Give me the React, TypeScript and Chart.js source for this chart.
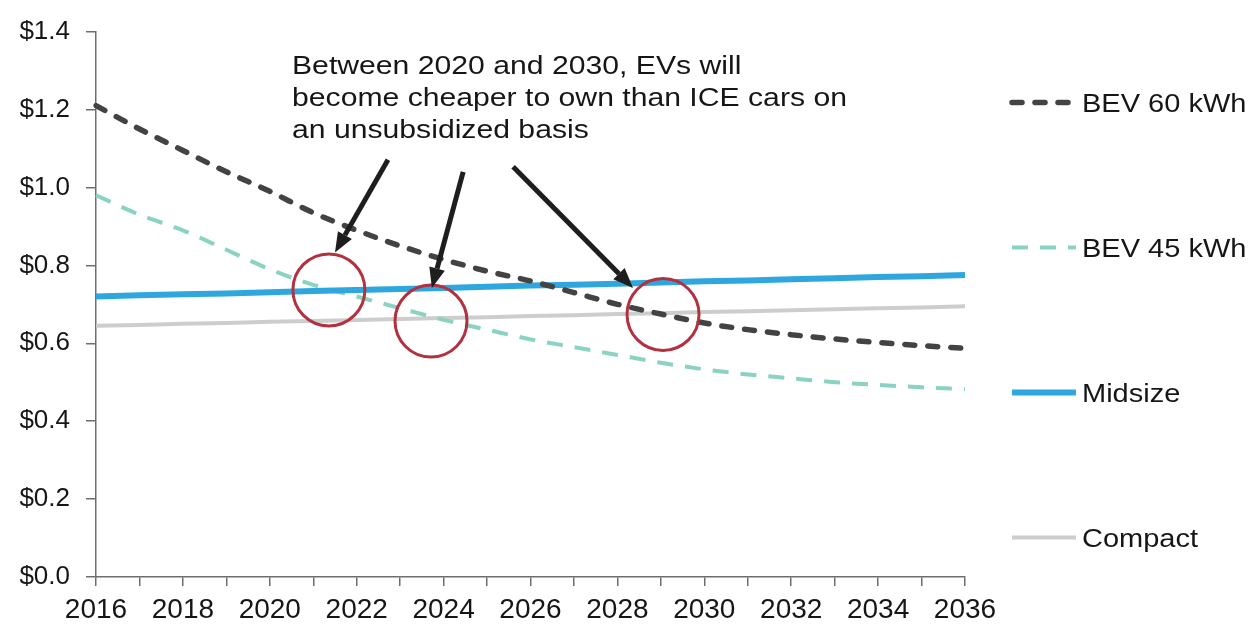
import React, { useEffect, useRef } from 'react';
import { Chart, registerables } from 'chart.js';

Chart.register(...registerables);

const years = [
  '2016', '2017', '2018', '2019', '2020', '2021', '2022', '2023', '2024', '2025', '2026',
  '2027', '2028', '2029', '2030', '2031', '2032', '2033', '2034', '2035', '2036',
];
const bev60 = [
  1.21, 1.15, 1.095, 1.04, 0.99, 0.935, 0.89, 0.85, 0.815, 0.785, 0.76,
  0.73, 0.70, 0.675, 0.652, 0.635, 0.622, 0.611, 0.602, 0.594, 0.587,
];
const bev45 = [
  0.98, 0.93, 0.89, 0.84, 0.79, 0.75, 0.72, 0.69, 0.66, 0.635, 0.61,
  0.59, 0.57, 0.55, 0.533, 0.52, 0.51, 0.50, 0.493, 0.487, 0.482,
];
const midsize = [
  0.720, 0.723, 0.726, 0.728, 0.731, 0.734, 0.737, 0.739, 0.742, 0.745, 0.748,
  0.750, 0.753, 0.756, 0.759, 0.761, 0.764, 0.767, 0.770, 0.772, 0.775,
];
const compact = [
  0.645, 0.647, 0.650, 0.652, 0.655, 0.657, 0.660, 0.662, 0.665, 0.667, 0.670,
  0.672, 0.675, 0.677, 0.680, 0.682, 0.685, 0.687, 0.690, 0.692, 0.695,
];
const seriesLabels = ['BEV 60 kWh', 'BEV 45 kWh', 'Midsize', 'Compact'];
const yMin = 0;
const yMax = 1.4;
const yStep = 0.2;

const annotationLines = [
  'Between 2020 and 2030, EVs will',
  'become cheaper to own than ICE cars on',
  'an unsubsidized basis',
];
const crossoverYears = [2021.36, 2023.71, 2029.05];
const crossoverValues = [0.737, 0.657, 0.674];
const arrowFromYears = [2022.72, 2024.45, 2025.6];
const arrowFromValues = [1.071, 1.04, 1.053];
const arrowToYears = [2021.5, 2023.73, 2028.36];
const arrowToValues = [0.833, 0.742, 0.742];

const FONT = '"Liberation Sans", Arial, Helvetica, sans-serif';
const TEXT_STRETCH = 1.16;
const TEXT_COLOR = '#161616';

function stretchedText(ctx: CanvasRenderingContext2D, text: string, x: number, y: number) {
  ctx.save();
  ctx.translate(x, y);
  ctx.scale(TEXT_STRETCH, 1);
  ctx.fillText(text, 0, 0);
  ctx.restore();
}

const overlayPlugin = {
  id: 'overlay',
  afterDatasetsDraw(chart: any) {
    const { ctx, chartArea, scales } = chart;
    const xs = scales.x;
    const ys = scales.y;
    const base = Number(years[0]);
    const px = (yr: number) => xs.getPixelForValue(yr - base);
    const py = (v: number) => ys.getPixelForValue(v);

    ctx.save();
    // circles
    ctx.strokeStyle = '#b3303f';
    ctx.lineWidth = 3;
    for (let i = 0; i < crossoverYears.length; i++) {
      ctx.beginPath();
      ctx.arc(px(crossoverYears[i]), py(crossoverValues[i]), 36, 0, Math.PI * 2);
      ctx.stroke();
    }
    // arrows
    ctx.strokeStyle = '#1e1e1e';
    ctx.fillStyle = '#1e1e1e';
    for (let i = 0; i < arrowFromYears.length; i++) {
      const x1 = px(arrowFromYears[i]);
      const y1 = py(arrowFromValues[i]);
      const x2 = px(arrowToYears[i]);
      const y2 = py(arrowToValues[i]);
      const ang = Math.atan2(y2 - y1, x2 - x1);
      const headLen = 20;
      const headHalf = 8;
      const bx = x2 - headLen * Math.cos(ang);
      const by = y2 - headLen * Math.sin(ang);
      ctx.lineWidth = 5;
      ctx.lineCap = 'butt';
      ctx.beginPath();
      ctx.moveTo(x1, y1);
      ctx.lineTo(bx, by);
      ctx.stroke();
      ctx.beginPath();
      ctx.moveTo(x2, y2);
      ctx.lineTo(bx + headHalf * Math.sin(ang), by - headHalf * Math.cos(ang));
      ctx.lineTo(bx - headHalf * Math.sin(ang), by + headHalf * Math.cos(ang));
      ctx.closePath();
      ctx.fill();
    }
    // annotation text
    ctx.fillStyle = TEXT_COLOR;
    ctx.font = `26px ${FONT}`;
    ctx.textAlign = 'left';
    ctx.textBaseline = 'alphabetic';
    annotationLines.forEach((line, i) => {
      stretchedText(ctx, line, chartArea.left + 196, chartArea.top + 42 + i * 32);
    });

    // legend
    const datasets = chart.data.datasets;
    const lx = chartArea.right + 45;
    datasets.forEach((ds: any, i: number) => {
      const ly = chartArea.top + 71 + i * 145;
      ctx.save();
      ctx.strokeStyle = ds.borderColor;
      ctx.lineWidth = ds.borderWidth;
      ctx.lineCap = ds.borderCapStyle || 'butt';
      ctx.setLineDash(ds.borderDash || []);
      ctx.beginPath();
      ctx.moveTo(lx + 2, ly);
      ctx.lineTo(lx + 66, ly);
      ctx.stroke();
      ctx.restore();
      ctx.fillStyle = TEXT_COLOR;
      ctx.font = `25px ${FONT}`;
      ctx.textBaseline = 'alphabetic';
      stretchedText(ctx, ds.label, lx + 72, ly + 9);
    });
    ctx.restore();
  },
};

export default function App() {
  const canvasRef = useRef<HTMLCanvasElement | null>(null);

  useEffect(() => {
    if (!canvasRef.current) return;
    const chart = new Chart(canvasRef.current, {
      type: 'line',
      data: {
        labels: years,
        datasets: [
          {
            label: seriesLabels[0],
            data: bev60,
            borderColor: '#434343',
            borderWidth: 5.5,
            borderDash: [10, 13],
            borderCapStyle: 'round',
            pointRadius: 0,
            cubicInterpolationMode: 'monotone',
            fill: false,
            order: 0,
          },
          {
            label: seriesLabels[1],
            data: bev45,
            borderColor: '#8ad2c2',
            borderWidth: 4,
            borderDash: [16, 12],
            borderCapStyle: 'butt',
            pointRadius: 0,
            cubicInterpolationMode: 'monotone',
            fill: false,
            order: 2,
          },
          {
            label: seriesLabels[2],
            data: midsize,
            borderColor: '#2ea7de',
            borderWidth: 6,
            pointRadius: 0,
            fill: false,
            order: 1,
          },
          {
            label: seriesLabels[3],
            data: compact,
            borderColor: '#cdcdcd',
            borderWidth: 4,
            pointRadius: 0,
            fill: false,
            order: 3,
          },
        ],
      },
      options: {
        animation: false,
        responsive: true,
        maintainAspectRatio: false,
        layout: { padding: { top: 23, right: 287, left: 0, bottom: 0 } },
        plugins: {
          legend: { display: false },
          tooltip: { enabled: false },
          title: { display: false },
        },
        scales: {
          x: {
            type: 'category',
            offset: false,
            grid: {
              display: true,
              drawOnChartArea: false,
              drawTicks: true,
              tickLength: 9,
              color: '#6e6e6e',
              lineWidth: 1.5,
              offset: false,
            },
            border: { display: true, color: '#6e6e6e', width: 1.5 },
            ticks: {
              autoSkip: false,
              maxRotation: 0,
              minRotation: 0,
              padding: 7,
              color: TEXT_COLOR,
              font: { family: FONT, size: 28 },
              callback: (_v: any, i: number) => (i % 2 === 0 ? years[i] : ''),
            },
            afterFit: (scale: any) => {
              scale.height = 50;
            },
          },
          y: {
            min: yMin,
            max: yMax,
            grid: {
              display: true,
              drawOnChartArea: false,
              drawTicks: true,
              tickLength: 10,
              color: '#6e6e6e',
              lineWidth: 1.5,
            },
            border: { display: true, color: '#6e6e6e', width: 1.5 },
            ticks: {
              stepSize: yStep,
              padding: 16,
              color: TEXT_COLOR,
              font: { family: FONT, size: 26 },
              callback: (v: any) => '$' + Number(v).toFixed(1),
            },
            afterFit: (scale: any) => {
              scale.width = 96;
            },
          },
        },
      },
      plugins: [overlayPlugin],
    });
    return () => chart.destroy();
  }, []);

  return (
    <div style={{ position: 'fixed', left: 0, top: 0, width: 1252, height: 627, background: '#ffffff' }}>
      <canvas ref={canvasRef} />
    </div>
  );
}
